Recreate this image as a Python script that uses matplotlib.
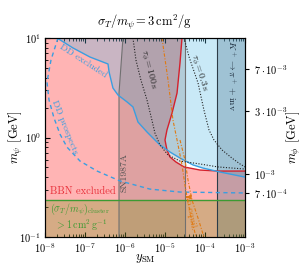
import numpy as np
import matplotlib
matplotlib.use("Agg")
import matplotlib.pyplot as plt

plt.rcParams["font.family"] = "serif"
plt.rcParams["font.serif"] = ["cmr10", "DejaVu Serif"]
plt.rcParams["mathtext.fontset"] = "cm"
plt.rcParams["axes.formatter.use_mathtext"] = True

# axis ranges
xlim = (1e-8, 1e-3)
ylim = (0.1, 10)

# DD excluded boundary (region above is excluded)
dd_x = [2.0e-8, 5.0e-8, 1.33e-7, 3.76e-7, 4.0e-7, 5.0e-7, 6.7e-7, 1.12e-6, 1.58e-6, 1.78e-6,
        2.11e-6, 3.55e-6, 5.6e-6, 7.5e-6, 1.33e-5, 2.37e-5, 5.0e-5, 8.9e-5, 2.37e-4, 1e-3]
dd_y = [10, 7.94, 6.44, 5.48, 4.55, 3.14, 2.67, 2.28, 2.03, 1.76,
        1.43, 1.135, 0.944, 0.841, 0.715, 0.622, 0.53, 0.493, 0.45, 0.40]

# DD prospects (dashed)
ddp_x = [2.11e-8, 1.41e-8, 1.12e-8, 1.26e-8, 1.68e-8, 2.37e-8, 3.55e-8, 7.5e-8, 2.0e-7,
         7.5e-7, 4.2e-6, 2.37e-5, 1e-3]
ddp_y = [10, 6.0, 3.6, 2.38, 1.57, 1.08, 0.80, 0.58, 0.46, 0.366, 0.303, 0.283, 0.277]

# BBN boundary (region left/below excluded)
bbn_x = [2.66e-5, 2.37e-5, 2.0e-5, 1.5e-5, 1.12e-5, 1.0e-5, 1.12e-5, 1.33e-5, 1.88e-5,
         2.99e-5, 7.5e-5, 2.11e-4, 1e-3]
bbn_y = [10, 5.6, 2.8, 1.76, 1.19, 0.944, 0.75, 0.637, 0.567, 0.506, 0.471, 0.46, 0.46]

# lifetime contours
tau100_x = [1.58e-6, 1.88e-6, 2.5e-6, 3.55e-6, 4.7e-6, 5.6e-6, 7.5e-6, 1.19e-5, 2.37e-5,
            7.5e-5, 2.11e-4, 1e-3]
tau100_y = [10, 6.0, 3.78, 2.38, 1.5, 1.11, 0.84, 0.667, 0.58, 0.542, 0.506, 0.482]
tau03_x = [2.99e-5, 4.0e-5, 6.7e-5, 9.4e-5, 1.26e-4, 1.68e-4, 2.66e-4, 4.7e-4, 7.5e-4, 1e-3]
tau03_y = [10, 6.44, 3.53, 1.89, 1.19, 0.944, 0.75, 0.622, 0.542, 0.506]

# no equilibration lines
neqA_x = [8.4e-6, 1.19e-5, 1.58e-5, 2.0e-5, 2.66e-5, 3.16e-5, 3.55e-5, 4.47e-5, 5.96e-5]
neqA_y = [10, 3.78, 1.5, 0.944, 0.53, 0.333, 0.252, 0.159, 0.1]
neqB_x = [2.37e-5, 3.16e-5, 3.76e-5, 4.73e-5, 6.7e-5, 9.4e-5]
neqB_y = [0.944, 0.594, 0.374, 0.235, 0.155, 0.1]

# SN1987A band and K+ band
sn_x_left = [8.9e-7, 7.08e-7, 7.08e-7]
sn_y_left = [10, 2.8, 0.1]
sn_x_right = 3.16e-5
kp_x_left = 1.94e-4

# cluster bound
cluster_m = 0.235

# right axis (m_phi) ticks placed at m_psi values
mphi_pos = [4.87, 1.85, 0.43, 0.277]
mphi_labels = [r"$7\cdot10^{-3}$", r"$3\cdot10^{-3}$", r"$10^{-3}$", r"$7\cdot10^{-4}$"]

fig = plt.figure(figsize=(3.02, 2.67), dpi=100)
ax = fig.add_axes([45/302, 1-237/267, 200/302, 199/267])
ax.set_xscale("log")
ax.set_yscale("log")
ax.set_xlim(*xlim)
ax.set_ylim(*ylim)

blue = "#3a9ee0"
red = "#d4202c"
green = "#3c9a32"
orange = "#e07a12"

# BBN excluded
px = [xlim[0]] + bbn_x + [xlim[1], xlim[1], xlim[0]]
py = [ylim[1]] + bbn_y + [bbn_y[-1], ylim[0], ylim[0]]
ax.fill(px, py, color=(1.0, 0.55, 0.55), alpha=0.65, lw=0, zorder=1)
ax.plot(bbn_x, bbn_y, color=red, lw=1.0, zorder=5)

# DD excluded
px = dd_x + [xlim[1]]
py = dd_y + [ylim[1]]
ax.fill(px, py, color=(0.3, 0.72, 0.9), alpha=0.3, lw=0, zorder=2)
ax.plot(dd_x, dd_y, color=blue, lw=1.0, zorder=5)
ax.plot(ddp_x, ddp_y, color=blue, lw=1.0, ls=(0, (3, 2.5)), zorder=5)

# SN1987A
px = sn_x_left + [sn_x_right, sn_x_right]
py = sn_y_left + [ylim[0], ylim[1]]
ax.fill(px, py, color=(0.3, 0.3, 0.3), alpha=0.18, lw=0, zorder=3)
ax.plot(sn_x_left, sn_y_left, color="#707070", lw=0.8, zorder=4)
ax.axvline(sn_x_right, color="#707070", lw=0.8, zorder=4)

# K+ -> pi+ inv
ax.axvspan(kp_x_left, xlim[1], color=(0.25, 0.42, 0.52), alpha=0.3, lw=0, zorder=3)
ax.axvline(kp_x_left, color="#2c3c48", lw=0.8, zorder=4)

# cluster
ax.axhspan(ylim[0], cluster_m, color=(0.5, 0.6, 0.15), alpha=0.33, lw=0, zorder=3)
ax.axhline(cluster_m, color=green, lw=1.0, zorder=5)

# lifetimes
ax.plot(tau100_x, tau100_y, color="#222222", lw=0.8, ls=(0, (1, 1.5)), zorder=5)
ax.plot(tau03_x, tau03_y, color="#222222", lw=0.8, ls=(0, (1, 1.5)), zorder=5)

# no equil.
ax.plot(neqA_x, neqA_y, color=orange, lw=0.8, ls=(0, (3, 1.5, 1, 1.5)), zorder=5)
ax.plot(neqB_x, neqB_y, color=orange, lw=0.8, ls=(0, (3, 1.5, 1, 1.5)), zorder=5)
ax.annotate("", xy=(2.9e-5, 0.252), xytext=(4.0e-5, 0.252),
            arrowprops=dict(arrowstyle="-|>", color=orange, lw=0.9, mutation_scale=6), zorder=6)

fs = 7.5
ax.text(8.9e-8, 5.87, "DD excluded", color=blue, fontsize=7, rotation=-33,
        ha="center", va="center", rotation_mode="anchor", zorder=6)
ax.text(3.16e-8, 1.28, "DD prospects", color=blue, fontsize=7, rotation=-68,
        ha="center", va="center", rotation_mode="anchor", zorder=6)
ax.text(1.33e-8, 0.29, "BBN excluded", color="#e8303a", fontsize=fs,
        ha="left", va="center", zorder=6)
ax.text(1.33e-8, 0.19, r"$(\sigma_T/m_\psi)_\mathrm{cluster}$", color=green, fontsize=7.2,
        ha="left", va="center", zorder=6)
ax.text(1.78e-8, 0.13, r"$>1\,\mathrm{cm}^2\,\mathrm{g}^{-1}$", color=green, fontsize=7.2,
        ha="left", va="center", zorder=6)
ax.text(9.4e-7, 0.44, "SN1987A", color="#505050", fontsize=7, rotation=90,
        ha="center", va="center", zorder=6)
ax.text(4.47e-4, 4.15, r"$K^+\to\pi^+ + \mathrm{inv}$", color="#203040", fontsize=7,
        rotation=-90, ha="center", va="center", zorder=6)
ax.text(3.76e-6, 4.77, r"$\tau_\phi = 100\,\mathrm{s}$", color="#222222", fontsize=7,
        rotation=-76, ha="center", va="center", rotation_mode="anchor", zorder=6)
ax.text(7.1e-5, 4.45, r"$\tau_\phi = 0.3\,\mathrm{s}$", color="#222222", fontsize=7,
        rotation=-73, ha="center", va="center", rotation_mode="anchor", zorder=6)
ax.text(4.2e-5, 0.178, "no equil.", color=orange, fontsize=7, rotation=-80,
        ha="center", va="center", rotation_mode="anchor", zorder=6)

ax.tick_params(which="both", direction="in", top=True, right=False, labelsize=7.5)
ax.tick_params(which="major", length=3.5, pad=3)
ax.tick_params(which="minor", length=2)
ax.set_xticks([1e-8, 1e-7, 1e-6, 1e-5, 1e-4, 1e-3])
ax.set_yticks([0.1, 1, 10])
ax.set_xlabel(r"$y_\mathrm{SM}$", fontsize=9)
ax.xaxis.set_label_coords(0.5, -0.075)
ax.set_ylabel(r"$m_\psi$ [GeV]", fontsize=9)
ax.yaxis.set_label_coords(-0.1, 0.5)
ax.set_title(r"$\sigma_T/m_\psi = 3\,\mathrm{cm}^2/\mathrm{g}$", fontsize=9, pad=9)

ax2 = ax.twinx()
ax2.set_yscale("log")
ax2.set_ylim(*ylim)
ax2.set_yticks(mphi_pos)
ax2.set_yticklabels(mphi_labels)
ax2.yaxis.set_minor_locator(matplotlib.ticker.NullLocator())
ax2.tick_params(direction="out", length=3, labelsize=7.5)
ax2.set_ylabel(r"$m_\phi$ [GeV]", fontsize=9)
ax2.yaxis.set_label_coords(1.2, 0.5)

fig.savefig("out.png", dpi=100)
